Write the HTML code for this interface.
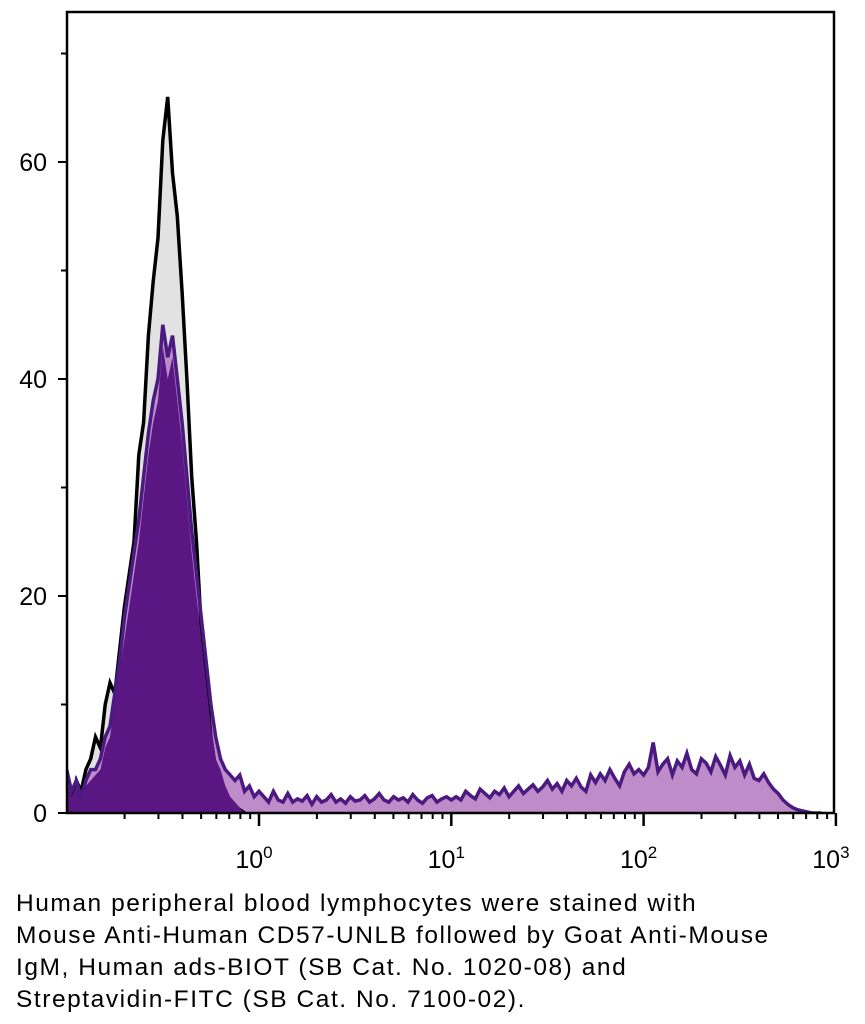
<!DOCTYPE html>
<html><head><meta charset="utf-8"><style>
html,body{margin:0;padding:0;background:#fff;}
body{width:865px;height:1024px;position:relative;overflow:hidden;font-family:"Liberation Sans",sans-serif;}
#cap{position:absolute;left:16px;top:888px;font-size:24.5px;line-height:32px;letter-spacing:1.55px;color:#000;white-space:nowrap;}
</style></head><body>
<svg id="chart" width="865" height="880" style="position:absolute;left:0;top:0" xmlns="http://www.w3.org/2000/svg"></svg>
<div id="cap">Human peripheral blood lymphocytes were stained with<br>Mouse Anti-Human CD57-UNLB followed by Goat Anti-Mouse<br>IgM, Human ads-BIOT (SB Cat. No. 1020-08) and<br>Streptavidin-FITC (SB Cat. No. 7100-02).</div>
<script>
const logStart = -1, logStep = 0.025;
const controlCounts = [2,1,3,2,4,5,7,6,10,12,11,15,19,22,25,33,36,44,49,53,62,66,59,55,48,40,31,25,17,12,7,4,2.5,1.5,1,0.5,0.3,0];
const stainedCounts = [4,2,3,1.5,3,4,4,5,7,8,11,14,18,21,24,27,31,35,38,40,45,42,44,40,36,31,26,22,18,14,10,7,5,4,3.5,3,3.5,2,2.5,1.5,2,
1.5,1,2,1.2,1,1.8,1,1.3,1.1,1.6,0.8,1.5,1,1.2,1.7,1,1.3,0.9,1.5,1.1,1.2,1.6,1,1.3,1.8,1.2,1,1.5,1.2,1.4,1,1.7,1.2,0.9,1.4,1.6,1,1.3,1.5,1.2,
1.5,1.2,2,1.6,1.3,2.2,1.8,1.4,2,1.7,2.3,1.5,2,2.5,1.8,2.2,2.6,2,2.4,3,2.2,2.7,2,3,2.5,3.2,2.4,2,3.5,2.8,3.6,3,4,3.2,2.5,3.8,4.5,3.6,4,3.5,
4.2,6.5,3.8,4.5,5,3.5,4.8,4.2,5.5,4,3.6,5,4.6,3.8,5.2,4.4,3.5,5.3,4.2,4.8,3.5,4.5,3.2,3,3.6,2.8,2.2,1.8,1.2,0.8,0.5,0.3,0.2,0.1,0,0,0];
const negPeakCounts = [3,1.5,2.5,1,2.5,3,3.5,4,6,7,10,13,16,19,22,25,29,33,36,38,43,40,42,38,34,29,24,20,16,12,8,5,4,2.5,1.5,1,0.5,0];
const yTicks = [0,20,40,60];
const xDecades = [0,1,2,3];

const L=67,R=834,T=12,B=813;
const xs = lg => 259 + lg*192.3;
const ys = v => B - v*10.85;
const svg=document.getElementById('chart');
const NS='http://www.w3.org/2000/svg';
function mk(tag,attrs,parent){const e=document.createElementNS(NS,tag);for(const k in attrs)e.setAttribute(k,attrs[k]);(parent||svg).appendChild(e);return e;}
function pathFor(arr,closed){
  let d='';
  arr.forEach((v,i)=>{const lg=logStart+i*logStep;const x=xs(lg).toFixed(1),y=ys(v).toFixed(1);d+=(i?'L':'M')+x+','+y;});
  if(closed){const lastX=xs(logStart+(arr.length-1)*logStep).toFixed(1);d+='L'+lastX+','+B+'L'+xs(logStart).toFixed(1)+','+B+'Z';}
  return d;
}
const clip=mk('clipPath',{id:'pc'});mk('rect',{x:L,y:T,width:R-L,height:B-T},clip);
const g=mk('g',{'clip-path':'url(#pc)'});
let e;
e=mk('path',{d:pathFor(controlCounts,true),fill:'#e2e2e2',stroke:'none'},g);

e=mk('path',{d:pathFor(stainedCounts,true),fill:'#bd8cc9',stroke:'none'},g);

e=mk('path',{d:pathFor(controlCounts,false),fill:'none',stroke:'#000',"stroke-width":3.5},g);

e=mk('path',{d:pathFor(negPeakCounts,true),fill:'#5a1682',stroke:'none'},g);

e=mk('path',{d:pathFor(stainedCounts,false),fill:'none',stroke:'#4a1a80',"stroke-width":3.5},g);

e=mk('rect',{x:L,y:T,width:R-L,height:B-T,fill:'none',stroke:'#000','stroke-width':2.5});

for(let v=0;v<=70;v+=10){
  const t=mk('line',{x1:L-(v%20===0?9:6),x2:L,y1:ys(v),y2:ys(v),stroke:'#000','stroke-width':2});
  
}
yTicks.forEach(v=>{
  const t=mk('text',{x:47,y:ys(v)+9,'text-anchor':'end','font-size':25,'font-family':'Liberation Sans, sans-serif'});
  t.textContent=v;
  
});
for(let d=-1;d<3;d++){for(let m=2;m<=9;m++){
  const x=xs(d+Math.log10(m));
  const t=mk('line',{x1:x,x2:x,y1:B,y2:B+6,stroke:'#000','stroke-width':2});
  
}}
xDecades.forEach(d=>{
  const x=xs(d);
  const t=mk('line',{x1:x,x2:x,y1:B,y2:B+13,stroke:'#000','stroke-width':2.5});
  
  const tx=mk('text',{x:x-5,y:868,'text-anchor':'middle','font-size':25,'font-family':'Liberation Sans, sans-serif'});
  tx.textContent='10';
  const s=mk('tspan',{dy:-10,'font-size':17},tx);s.textContent=d;
  
});
</script>
</body></html>
